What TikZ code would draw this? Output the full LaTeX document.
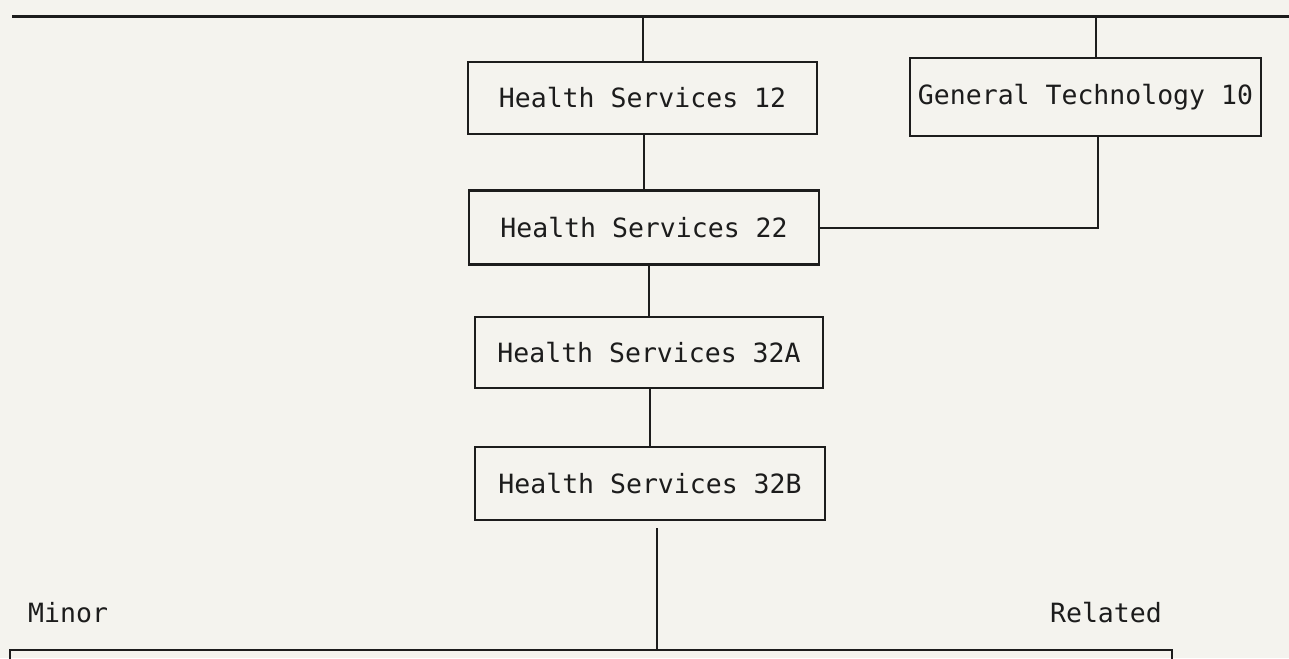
\documentclass[tikz,border=0pt]{standalone}
\usepackage{fontspec}
\setmonofont{DejaVu Sans Mono}
\definecolor{paper}{RGB}{244,243,238}
\definecolor{ink}{RGB}{28,28,28}
\tikzset{
  course/.style={draw=ink, line width=2.4pt, rectangle, inner sep=0pt,
    font=\ttfamily\fontsize{26.5}{30}\selectfont, text=ink},
  link/.style={draw=ink, line width=2pt},
  label/.style={font=\ttfamily\fontsize{26.5}{30}\selectfont, text=ink, inner sep=0pt}
}
\begin{document}
\begin{tikzpicture}[x=1pt,y=-1pt]
\fill[paper] (0,0) rectangle (1289,658);
\useasboundingbox (0,0) rectangle (1289,658);

\coordinate (tl) at (12,17);
\coordinate (tr) at (1289,17);
\coordinate (bl) at (10,650);
\coordinate (br) at (1172,650);

\node[course, minimum width=349pt, minimum height=72pt] (hs12) at (642.5,98) {Health Services 12};
\node[course, minimum width=351pt, minimum height=78pt] (gt10) at (1085.5,97) {General Technology 10};
\node[course, minimum width=350pt, minimum height=74pt] (hs22) at (644,227.5) {Health Services 22};
\node[course, minimum width=348pt, minimum height=71pt] (hs32a) at (649,352.5) {Health Services 32A};
\node[course, minimum width=350pt, minimum height=73pt] (hs32b) at (650,483.5) {Health Services 32B};

\node[label, anchor=west] (minor) at (28,613) {Minor};
\node[label, anchor=east] (related) at (1162,613) {Related};

% top rule
\draw[ink, line width=3pt] (tl) -- (tr);
% connectors
\draw[link] (hs12.north) -- (hs12.north |- tl);
\draw[link] ([xshift=10.5pt]gt10.north) -- ([xshift=10.5pt]gt10.north |- tl);
\draw[link] (hs22.north) -- (hs22.north |- hs12.south);
\draw[link] ([xshift=12.5pt]gt10.south) |- (hs22.east);
\draw[link] (hs32a.north) -- (hs32a.north |- hs22.south);
\draw[link] (hs32b.north) -- (hs32b.north |- hs32a.south);
\draw[link] ([xshift=7pt,yshift=-7pt]hs32b.south) -- ([xshift=7pt]hs32b.south |- bl);
% bottom box (cut off by the page edge)
\draw[ink, line width=2.6pt] (10,660) -- (bl) -- (br) -- (1172,660);
\end{tikzpicture}
\end{document}
